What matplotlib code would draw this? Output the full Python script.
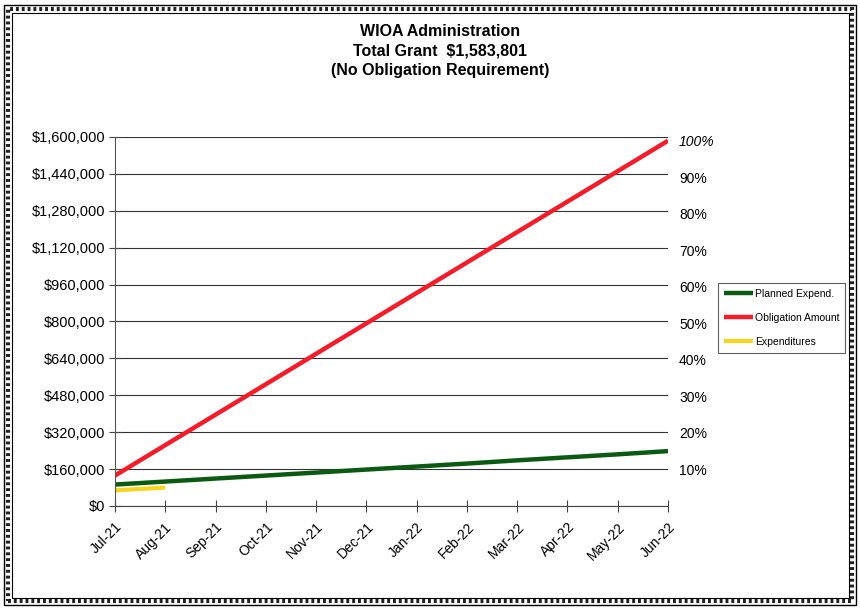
import matplotlib
matplotlib.use("Agg")
import matplotlib.pyplot as plt
from matplotlib.patches import Rectangle
from matplotlib.ticker import FuncFormatter

plt.rcParams['font.family'] = ['Liberation Sans', 'DejaVu Sans']

months = ["Jul-21", "Aug-21", "Sep-21", "Oct-21", "Nov-21", "Dec-21",
          "Jan-22", "Feb-22", "Mar-22", "Apr-22", "May-22", "Jun-22"]
planned = [93000, 106000, 119000, 132000, 145000, 158000,
           171000, 184000, 198000, 211000, 224000, 238000]
obligation = [131983, 263967, 395950, 527934, 659917, 791901,
              923884, 1055867, 1187851, 1319834, 1451818, 1583801]
expend_months = ["Jul-21", "Aug-21"]
expenditures = [68000, 80000]
total_grant = 1583801
left_ticks = [0, 160000, 320000, 480000, 640000, 800000, 960000,
              1120000, 1280000, 1440000, 1600000]
pct_ticks = [10, 20, 30, 40, 50, 60, 70, 80, 90, 100]

fig = plt.figure(figsize=(8.6, 6.09), dpi=100)
ax = fig.add_axes([115/860, 1-506/609, (668-115)/860, (506-137)/609])

x = list(range(len(months)))
xe = [months.index(m) for m in expend_months]
lp, = ax.plot(x, planned, color="#0b5a12", lw=3.2, solid_capstyle="butt", label="Planned Expend.")
lo, = ax.plot(x, obligation, color="#f51c2a", lw=3.2, solid_capstyle="butt", label="Obligation Amount")
le, = ax.plot(xe, expenditures, color="#f7d51e", lw=3.0, solid_capstyle="butt", label="Expenditures")

ax.set_xlim(0, len(months)-1)
ax.set_ylim(0, 1600000)
ax.set_yticks(left_ticks)
ax.yaxis.set_major_formatter(FuncFormatter(lambda v, p: "${:,.0f}".format(v)))
ax.grid(axis="y", color="#333333", lw=0.8)
ax.set_axisbelow(True)
ax.set_xticks(x)
ax.set_xticklabels(months, rotation=45, ha="right", rotation_mode="anchor", fontsize=10)
ax.tick_params(axis="y", labelsize=10.5, direction="inout", length=8, width=0.8,
               color="#444444", pad=3)
ax.tick_params(axis="x", direction="inout", length=8, width=0.8, color="#444444", pad=6)
for s in ["top", "right"]:
    ax.spines[s].set_visible(False)
ax.spines["left"].set_color("#555555")
ax.spines["bottom"].set_color("#444444")

ax2 = ax.twinx()
ax2.set_ylim(0, 1600000/total_grant)
ax2.set_yticks([p/100 for p in pct_ticks])
ax2.set_yticklabels([f"{p}%" for p in pct_ticks], fontsize=10)
ax2.tick_params(axis="y", length=0, pad=8)
ax2.get_yticklabels()[-1].set_fontstyle("italic")
for s in ax2.spines.values():
    s.set_visible(False)

leg = fig.legend(handles=[lp, lo, le], loc="upper left",
                 bbox_to_anchor=(718/860, 1-283/609), fontsize=7.5,
                 frameon=True, fancybox=False, edgecolor="#333333",
                 handlelength=2.8, handletextpad=0.2, labelspacing=1.35,
                 borderpad=0.55, borderaxespad=0)
leg.get_frame().set_linewidth(0.8)

fig.text(440/860, 1-32/609, "WIOA Administration", ha="center", va="center",
         fontsize=11.5, fontweight="bold")
fig.text(440/860, 1-51/609, "Total Grant  $1,583,801", ha="center", va="center",
         fontsize=11.5, fontweight="bold")
fig.text(440/860, 1-70/609, "(No Obligation Requirement)", ha="center", va="center",
         fontsize=11.5, fontweight="bold")

# decorative frame
fig.patches.append(Rectangle((4/860, 4/609), 852/860, 600/609, transform=fig.transFigure,
                             fill=False, edgecolor="black", lw=1.0))
fig.patches.append(Rectangle((8/860, 8/609), 844/860, 592/609, transform=fig.transFigure,
                             fill=False, edgecolor="#222222", lw=3, linestyle=(0, (0.7, 0.7))))
fig.patches.append(Rectangle((11.5/860, 11.5/609), 837/860, 585/609, transform=fig.transFigure,
                             fill=False, edgecolor="black", lw=0.8))

fig.savefig("out.png", dpi=100)
